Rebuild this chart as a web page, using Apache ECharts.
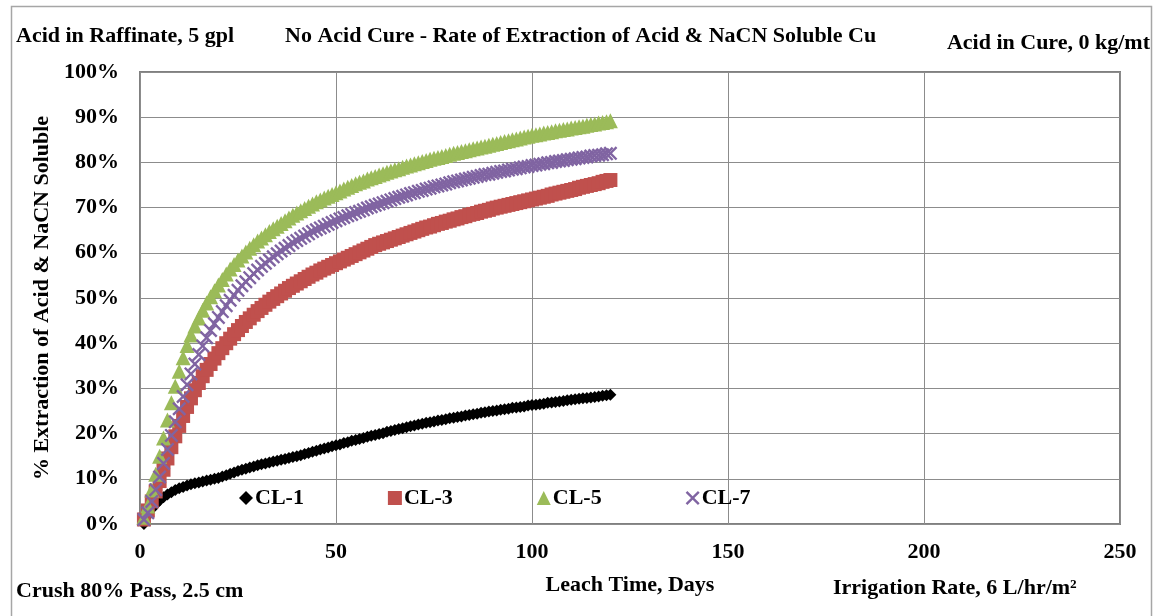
<!DOCTYPE html>
<html>
<head>
<meta charset="utf-8">
<title>No Acid Cure - Rate of Extraction</title>
<script src="https://cdn.jsdelivr.net/npm/echarts@6/dist/echarts.min.js"></script>
<style>
  html, body { margin: 0; padding: 0; background: #ffffff; }
  #chart { width: 1156px; height: 616px; }
</style>
</head>
<body>
<div id="chart"></div>
<script>
// Leach extraction (%) by day, days 1..120 for each column
const FIRST_DAY = 1;

const CL1 = [
  0.0, 1.8, 3.3, 4.3, 5.2, 5.9, 6.5, 7.0, 7.5, 7.9,
  8.2, 8.5, 8.8, 9.0, 9.2, 9.4, 9.6, 9.8, 10.0, 10.2,
  10.5, 10.8, 11.1, 11.4, 11.7, 12.0, 12.2, 12.5, 12.7, 13.0,
  13.2, 13.4, 13.6, 13.8, 14.0, 14.2, 14.4, 14.6, 14.8, 15.0,
  15.2, 15.5, 15.7, 16.0, 16.2, 16.5, 16.7, 16.9, 17.2, 17.4,
  17.6, 17.9, 18.1, 18.4, 18.6, 18.8, 19.0, 19.3, 19.5, 19.7,
  19.9, 20.1, 20.4, 20.6, 20.8, 21.0, 21.2, 21.4, 21.6, 21.8,
  22.0, 22.2, 22.4, 22.5, 22.7, 22.9, 23.0, 23.2, 23.4, 23.5,
  23.7, 23.8, 24.0, 24.1, 24.3, 24.4, 24.6, 24.7, 24.9, 25.0,
  25.1, 25.3, 25.4, 25.5, 25.7, 25.8, 25.9, 26.0, 26.2, 26.3,
  26.4, 26.5, 26.6, 26.8, 26.9, 27.0, 27.1, 27.2, 27.4, 27.5,
  27.6, 27.7, 27.8, 27.9, 28.0, 28.1, 28.2, 28.4, 28.5, 28.6
];

const CL3 = [
  1.0, 3.0, 5.0, 7.2, 9.5, 12.0, 14.5, 17.0, 19.4, 21.7,
  23.9, 25.9, 27.8, 29.6, 31.2, 32.7, 34.1, 35.4, 36.6, 37.8,
  38.9, 40.0, 41.0, 42.0, 42.9, 43.8, 44.7, 45.5, 46.3, 47.1,
  47.8, 48.5, 49.2, 49.8, 50.4, 51.0, 51.6, 52.2, 52.7, 53.2,
  53.7, 54.2, 54.7, 55.2, 55.6, 56.1, 56.5, 56.9, 57.3, 57.7,
  58.1, 58.5, 58.9, 59.3, 59.7, 60.1, 60.5, 60.9, 61.3, 61.7,
  62.0, 62.3, 62.6, 62.9, 63.2, 63.5, 63.8, 64.1, 64.4, 64.7,
  65.0, 65.3, 65.6, 65.8, 66.1, 66.4, 66.6, 66.9, 67.1, 67.4,
  67.6, 67.9, 68.1, 68.4, 68.6, 68.8, 69.1, 69.3, 69.5, 69.8,
  70.0, 70.2, 70.4, 70.6, 70.8, 71.0, 71.2, 71.4, 71.6, 71.8,
  72.0, 72.2, 72.4, 72.6, 72.9, 73.1, 73.3, 73.5, 73.7, 73.9,
  74.1, 74.4, 74.6, 74.8, 75.0, 75.2, 75.4, 75.7, 75.9, 76.1
];

const CL5 = [
  1.5, 4.0, 7.5, 11.0, 15.0, 19.0, 23.0, 26.8, 30.5, 33.8,
  36.8, 39.5, 41.8, 43.8, 45.6, 47.3, 48.9, 50.3, 51.6, 52.9,
  54.1, 55.3, 56.4, 57.4, 58.4, 59.3, 60.2, 61.0, 61.8, 62.6,
  63.3, 64.0, 64.7, 65.3, 65.9, 66.5, 67.1, 67.7, 68.3, 68.8,
  69.3, 69.8, 70.3, 70.8, 71.3, 71.7, 72.1, 72.5, 72.9, 73.3,
  73.7, 74.1, 74.5, 74.9, 75.3, 75.6, 75.9, 76.3, 76.6, 76.9,
  77.2, 77.5, 77.8, 78.1, 78.4, 78.6, 78.9, 79.2, 79.4, 79.7,
  79.9, 80.2, 80.4, 80.7, 80.9, 81.1, 81.3, 81.5, 81.8, 82.0,
  82.2, 82.4, 82.6, 82.8, 83.0, 83.2, 83.4, 83.6, 83.8, 84.0,
  84.2, 84.4, 84.6, 84.8, 85.0, 85.2, 85.4, 85.6, 85.8, 86.0,
  86.1, 86.3, 86.5, 86.6, 86.8, 87.0, 87.1, 87.3, 87.4, 87.6,
  87.7, 87.9, 88.0, 88.2, 88.4, 88.5, 88.7, 88.8, 89.0, 89.2
];

const CL7 = [
  1.0, 2.5, 5.0, 7.6, 10.4, 13.4, 16.5, 19.6, 22.6, 25.5,
  28.2, 30.8, 33.2, 35.4, 37.5, 39.4, 41.2, 42.8, 44.3, 45.7,
  47.0, 48.3, 49.5, 50.6, 51.7, 52.7, 53.6, 54.5, 55.4, 56.2,
  57.0, 57.7, 58.4, 59.1, 59.8, 60.4, 61.0, 61.6, 62.2, 62.7,
  63.2, 63.7, 64.2, 64.7, 65.1, 65.5, 65.9, 66.3, 66.7, 67.1,
  67.5, 67.8, 68.2, 68.5, 68.9, 69.2, 69.5, 69.9, 70.2, 70.5,
  70.8, 71.1, 71.4, 71.7, 72.0, 72.3, 72.5, 72.8, 73.1, 73.3,
  73.6, 73.8, 74.1, 74.3, 74.6, 74.8, 75.0, 75.2, 75.5, 75.7,
  75.9, 76.1, 76.3, 76.5, 76.7, 76.9, 77.1, 77.3, 77.4, 77.6,
  77.8, 78.0, 78.1, 78.3, 78.5, 78.6, 78.8, 79.0, 79.1, 79.3,
  79.4, 79.6, 79.7, 79.9, 80.0, 80.2, 80.3, 80.4, 80.6, 80.7,
  80.8, 81.0, 81.1, 81.2, 81.4, 81.5, 81.6, 81.7, 81.9, 82.0
];

const SERIES_NAMES = ['CL-1', 'CL-3', 'CL-5', 'CL-7'];
const X_TICKS = [0, 50, 100, 150, 200, 250];
const Y_TICKS_PCT = [0, 10, 20, 30, 40, 50, 60, 70, 80, 90, 100];

// pair each daily value with its leach day
function withDays(values) {
  return values.map((v, i) => [FIRST_DAY + i, v]);
}

const FONT = '"Liberation Serif", "Times New Roman", serif';
const FONT_BOLD = 'bold 22px ' + FONT;
const crossPath = 'path://M0,1.2L1.2,0L5,3.8L8.8,0L10,1.2L6.2,5L10,8.8L8.8,10L5,6.2L1.2,10L0,8.8L3.8,5Z';

const chart = echarts.init(document.getElementById('chart'), null, { renderer: 'canvas' });

const textStyle = { fontFamily: FONT, fontWeight: 'bold', fontSize: 22, color: '#000' };

chart.setOption({
  animation: false,
  backgroundColor: '#ffffff',
  textStyle: { fontFamily: FONT },
  graphic: [
    { type: 'rect', shape: { x: 11.5, y: 6.5, width: 1140, height: 620 },
      style: { fill: 'none', stroke: '#a6a6a6', lineWidth: 1.5 }, silent: true },
    { type: 'text', left: 16, top: 25,
      style: { text: 'Acid in Raffinate, 5 gpl', font: FONT_BOLD, fill: '#000' } },
    { type: 'text', left: 285, top: 25,
      style: { text: 'No Acid Cure - Rate of Extraction of Acid & NaCN Soluble Cu', font: FONT_BOLD, fill: '#000' } },
    { type: 'text', right: 6, top: 32,
      style: { text: 'Acid in Cure, 0 kg/mt', font: FONT_BOLD, fill: '#000' } },
    { type: 'text', left: 16, top: 580,
      style: { text: 'Crush 80% Pass, 2.5 cm', font: FONT_BOLD, fill: '#000' } },
    { type: 'text', left: 833, top: 577,
      style: { text: 'Irrigation Rate, 6 L/hr/m²', font: FONT_BOLD, fill: '#000' } }
  ],
  legend: {
    data: SERIES_NAMES,
    left: 234,
    top: 482,
    itemGap: 84,
    itemWidth: 14,
    itemHeight: 14,
    textStyle: { fontFamily: FONT, fontWeight: 'bold', fontSize: 22, color: '#000', padding: [0, 0, 0, -3] }
  },
  grid: {
    left: 140, right: 36, top: 72, bottom: 92,
    show: true, borderColor: '#808080', borderWidth: 2, backgroundColor: 'transparent'
  },
  xAxis: {
    type: 'value',
    min: X_TICKS[0], max: X_TICKS[X_TICKS.length - 1], interval: 50,
    name: 'Leach Time, Days',
    nameLocation: 'middle',
    nameGap: 50,
    nameTextStyle: textStyle,
    axisLine: { show: false },
    axisTick: { show: false },
    axisLabel: Object.assign({ margin: 17 }, textStyle),
    splitLine: { show: true, lineStyle: { color: '#8c8c8c', width: 1 } }
  },
  yAxis: {
    type: 'value',
    min: Y_TICKS_PCT[0], max: Y_TICKS_PCT[Y_TICKS_PCT.length - 1], interval: 10,
    name: '% Extraction of Acid & NaCN Soluble',
    nameLocation: 'middle',
    nameGap: 85,
    nameTextStyle: textStyle,
    axisLine: { show: false },
    axisTick: { show: false },
    axisLabel: Object.assign({ margin: 21, formatter: '{value}%' }, textStyle),
    splitLine: { show: true, lineStyle: { color: '#8c8c8c', width: 1 } }
  },
  series: [
    { name: SERIES_NAMES[0], type: 'scatter', data: withDays(CL1),
      symbol: 'diamond', symbolSize: 12, itemStyle: { color: '#000000', opacity: 1 } },
    { name: SERIES_NAMES[1], type: 'scatter', data: withDays(CL3),
      symbol: 'rect', symbolSize: 14, itemStyle: { color: '#C0504D', opacity: 1 } },
    { name: SERIES_NAMES[2], type: 'scatter', data: withDays(CL5),
      symbol: 'triangle', symbolSize: 15, itemStyle: { color: '#9BBB59', opacity: 1 } },
    { name: SERIES_NAMES[3], type: 'scatter', data: withDays(CL7),
      symbol: crossPath, symbolSize: 14, itemStyle: { color: '#8064A2', opacity: 1 } }
  ]
});
</script>
</body>
</html>
